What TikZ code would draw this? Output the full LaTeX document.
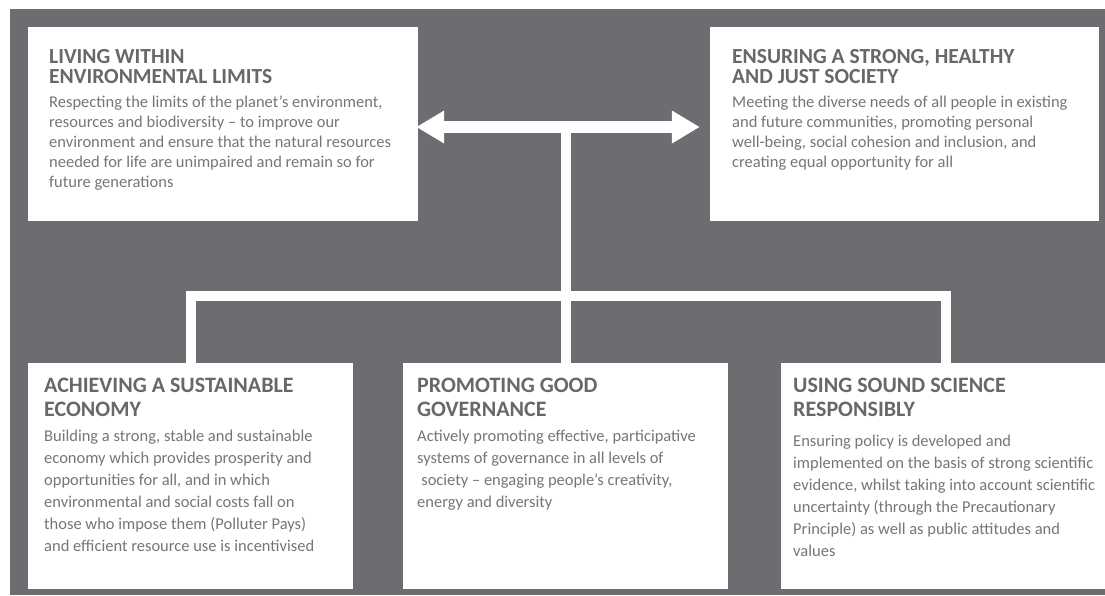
\documentclass[tikz,border=0pt]{standalone}
\usepackage{fontspec}
\setmainfont{Carlito}
\usetikzlibrary{arrows.meta}

\definecolor{slate}{RGB}{109,108,113}
\definecolor{headgray}{RGB}{104,104,106}
\definecolor{bodygray}{RGB}{118,118,120}

\begin{document}
\begin{tikzpicture}[x=1pt, y=-1pt,
  panel/.style={rectangle, fill=white, draw=none, inner sep=0pt},
  heading/.style={anchor=north west, inner sep=0pt, align=left, text=headgray,
                  font=\fontsize{21.5}{20}\selectfont\bfseries},
  blurb/.style={anchor=north west, inner sep=0pt, align=left, text=bodygray,
                font=\fontsize{16.5}{20}\selectfont},
  link/.style={draw=white, line width=10pt}]

  \useasboundingbox (0,0) rectangle (1105,595);
  \clip (0,0) rectangle (1105,595);
  \fill[slate] (10,9) rectangle (1105,595);

  % top row
  \node[panel, minimum width=390pt, minimum height=194pt] (living) at (223,124) {};
  \node[heading] (livinghead) at (49,49) {LIVING WITHIN\\ENVIRONMENTAL LIMITS};
  \node[blurb] (livingtext) at (49,96) {Respecting the limits of the planet’s environment,\\
    resources and biodiversity – to improve our\\
    environment and ensure that the natural resources\\
    needed for life are unimpaired and remain so for\\
    future generations};

  \node[panel, minimum width=389pt, minimum height=194pt] (society) at (904.5,124) {};
  \node[heading] (societyhead) at (732,49) {ENSURING A STRONG, HEALTHY\\AND JUST SOCIETY};
  \node[blurb] (societytext) at (732,96) {Meeting the diverse needs of all people in existing\\
    and future communities, promoting personal\\
    well-being, social cohesion and inclusion, and\\
    creating equal opportunity for all};

  % bottom row
  \begin{scope}[heading/.append style={font=\fontsize{22}{24}\selectfont\bfseries},
                blurb/.append style={font=\fontsize{16.5}{22}\selectfont}]
  \node[panel, minimum width=325pt, minimum height=226pt] (economy) at (190.5,476) {};
  \node[heading] (economyhead) at (44,378) {ACHIEVING A SUSTAINABLE\\ECONOMY};
  \node[blurb] (economytext) at (44,430) {Building a strong, stable and sustainable\\
    economy which provides prosperity and\\
    opportunities for all, and in which\\
    environmental and social costs fall on\\
    those who impose them (Polluter Pays)\\
    and efficient resource use is incentivised};

  \node[panel, minimum width=325pt, minimum height=226pt] (governance) at (565.5,476) {};
  \node[heading] (governancehead) at (417,378) {PROMOTING GOOD\\GOVERNANCE};
  \node[blurb] (governancetext) at (417,430) {Actively promoting effective, participative\\
    systems of governance in all levels of\\
    \hspace*{0.25em}society – engaging people’s creativity,\\
    energy and diversity};

  \node[panel, minimum width=330pt, minimum height=226pt] (science) at (946,476) {};
  \node[heading] (sciencehead) at (793,378) {USING SOUND SCIENCE\\RESPONSIBLY};
  \node[blurb] (sciencetext) at (793,435) {Ensuring policy is developed and\\
    implemented on the basis of strong scientific\\
    evidence, whilst taking into account scientific\\
    uncertainty (through the Precautionary\\
    Principle) as well as public attitudes and\\
    values};
  \end{scope}

  % links
  \draw[link, line width=12pt, {Triangle[length=28pt,width=31pt]}-{Triangle[length=28pt,width=31pt]},
        shorten <=-2pt, shorten >=10pt]
    ([yshift=-3pt]living.east) -- ([yshift=-3pt]society.west);
  \draw[link] (governance.north) -- (governance.north |- living.east);
  \coordinate (junction) at (567,296);
  \draw[link] (economy.north) |- (junction) -| (science.north);
\end{tikzpicture}
\end{document}
